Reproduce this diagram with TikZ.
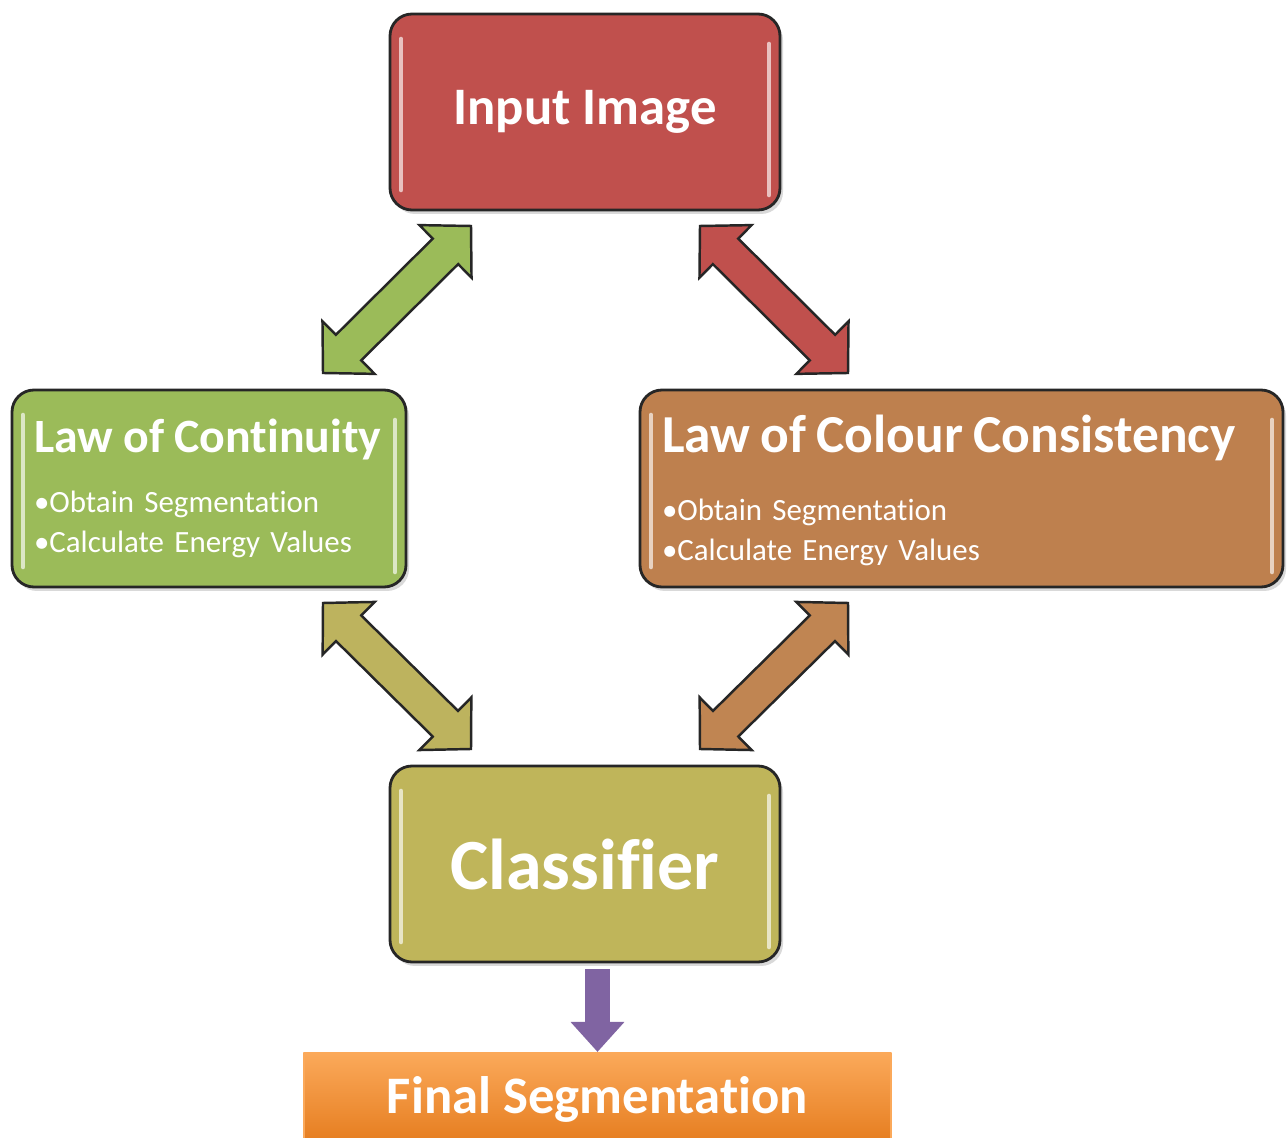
\documentclass[tikz,border=0pt]{standalone}
\usepackage{fontspec}
\setmainfont{Carlito}[Ligatures=NoCommon]
\usetikzlibrary{calc,arrows.meta,shadows}
\definecolor{inred}{HTML}{C0504D}
\definecolor{contgreen}{HTML}{9BBB59}
\definecolor{colbrown}{HTML}{BE804E}
\definecolor{clsolive}{HTML}{BFB55A}
\definecolor{arrolive}{HTML}{BDB35E}
\definecolor{arrbrown}{HTML}{C08552}
\definecolor{arrpurple}{HTML}{8064A2}
\definecolor{fintop}{HTML}{FBA95A}
\definecolor{finbot}{HTML}{E57C1E}
\begin{document}
\begin{tikzpicture}[line join=round, line cap=round]
	\tikzset{box/.style={draw=black!85, line width=0.8pt, rounded corners=0.22cm, text=white, inner xsep=0.22cm,
			drop shadow={shadow xshift=0.03cm, shadow yshift=-0.04cm, opacity=0.3},
			path picture={
				\draw[white, opacity=0.65, line width=1.3pt] ([shift={(0.11cm,-0.25cm)}]path picture bounding box.north west) -- ([shift={(0.11cm,0.2cm)}]path picture bounding box.south west);
				\draw[white, opacity=0.65, line width=1.3pt] ([shift={(-0.11cm,-0.3cm)}]path picture bounding box.north east) -- ([shift={(-0.11cm,0.15cm)}]path picture bounding box.south east);
			}},
		lawbox/.style={box, minimum height=1.97cm, align=left, font=\fontsize{8.8}{11.4}\selectfont},
		bigarrow/.style={draw=black!85, line width=0.7pt, line join=miter, to path={
				let \p1=($(\tikztostart)!0.36cm!(\tikztotarget)$), \p2=($(\tikztotarget)!0.36cm!(\tikztostart)$) in
				-- ($(\p1)!0.37cm!90:(\tikztotarget)$) -- ($(\p1)!0.18cm!90:(\tikztotarget)$)
				-- ($(\p2)!0.18cm!-90:(\tikztostart)$) -- ($(\p2)!0.37cm!-90:(\tikztostart)$)
				-- (\tikztotarget)
				-- ($(\p2)!0.37cm!90:(\tikztostart)$) -- ($(\p2)!0.18cm!90:(\tikztostart)$)
				-- ($(\p1)!0.18cm!-90:(\tikztotarget)$) -- ($(\p1)!0.37cm!-90:(\tikztotarget)$) -- cycle}}}
	\useasboundingbox (0,0) rectangle (12.87,-11.38);
	
	\node[box, fill=inred, minimum width=3.9cm, minimum height=1.96cm, font=\fontsize{15}{18}\selectfont\bfseries] (in) at (5.85,-1.12) {Input Image};
	\node[lawbox, fill=contgreen, minimum width=3.94cm, text width=3.5cm] (cont) at (2.09,-4.885)
		{\mbox{\fontsize{13.6}{17}\selectfont\bfseries Law of Continuity}\\[5.5pt]•Obtain Segmentation\\•Calculate Energy Values};
	\node[lawbox, fill=colbrown, minimum width=6.43cm, text width=5.99cm] (col) at (9.615,-4.885)
		{\mbox{\rule{0pt}{0.42cm}\fontsize{15.2}{18}\selectfont\bfseries Law of Colour Consistency}\\[8pt]•Obtain Segmentation\\•Calculate Energy Values};
	\node[box, fill=clsolive, minimum width=3.9cm, minimum height=1.96cm, font=\fontsize{20.5}{25}\selectfont\bfseries] (cls) at (5.85,-8.64) {Classifier};
	\node[draw=fintop, line width=0.6pt, top color=fintop, bottom color=finbot, text=white, minimum width=5.87cm, minimum height=0.92cm,
		font=\fontsize{15}{18}\selectfont\bfseries] (fin) at (5.975,-10.99) {Final Segmentation};
	
	\coordinate (g1) at (3.23,-3.73);
	\coordinate (g2) at (4.71,-2.26);
	\coordinate (r1) at (7.00,-2.26);
	\coordinate (r2) at (8.48,-3.73);
	\coordinate (o1) at (3.23,-6.03);
	\coordinate (o2) at (4.71,-7.49);
	\coordinate (b1) at (8.48,-6.03);
	\coordinate (b2) at (7.00,-7.49);
	
	\draw[bigarrow, fill=contgreen] (g1) to (g2);
	\draw[bigarrow, fill=inred] (r1) to (r2);
	\draw[bigarrow, fill=arrolive] (o1) to (o2);
	\draw[bigarrow, fill=arrbrown] (b1) to (b2);
	\draw[arrpurple, line width=0.25cm, line cap=butt, shorten <=0.06cm, -{Triangle[width=0.52cm, length=0.3cm]}] (fin.north |- cls.south) -- (fin.north);
\end{tikzpicture}
\end{document}
